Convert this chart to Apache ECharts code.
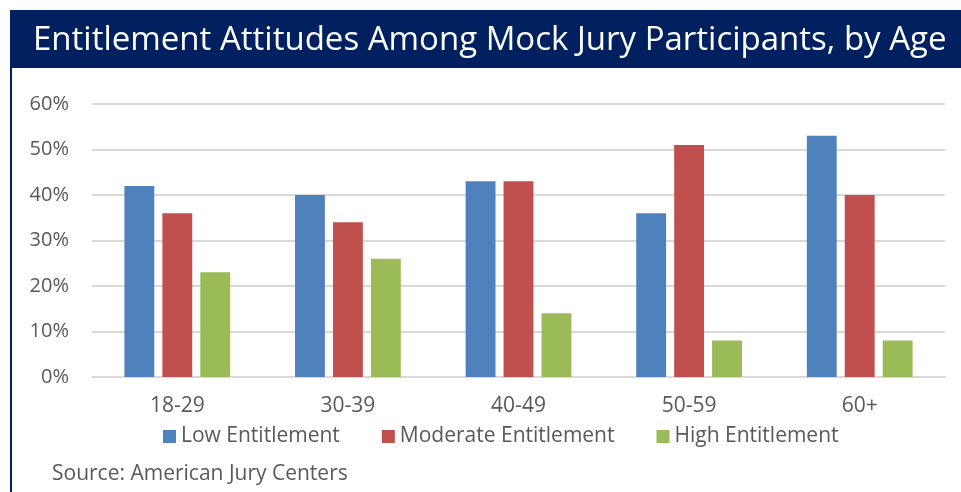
<!DOCTYPE html>
<html>
<head>
<meta charset="utf-8">
<script src="https://cdn.jsdelivr.net/npm/echarts@6/dist/echarts.min.js"></script>
<style>
  html, body { margin: 0; padding: 0; background: #fff; }
  #chart { width: 961px; height: 492px; }
</style>
</head>
<body>
<div id="chart"></div>
<script>
const ageGroups = ['18-29', '30-39', '40-49', '50-59', '60+'];
const lowEntitlement = [42, 40, 43, 36, 53];
const moderateEntitlement = [36, 34, 43, 51, 40];
const highEntitlement = [23, 26, 14, 8, 8];

const font = '"Open Sans", "Noto Sans", sans-serif';
const textColor = '#595959';

const chart = echarts.init(document.getElementById('chart'));

function barSeries(name, data, color) {
    return {
        name: name,
        type: 'bar',
        data: data,
        barGap: '27%',
        barCategoryGap: '38%',
        itemStyle: { color: color },
        emphasis: { disabled: true }
    };
}

chart.setOption({
    animation: false,
    title: {
        text: 'Entitlement Attitudes Among Mock Jury Participants, by Age',
        left: 28,
        top: 19,
        textStyle: { color: '#fff', fontSize: 33, fontWeight: 'normal', fontFamily: font }
    },
    graphic: [
        {
            type: 'rect', z: -1,
            shape: { x: 10, y: 10, width: 951, height: 58 },
            style: { fill: '#002060' }
        },
        {
            type: 'rect', z: -1,
            shape: { x: 10, y: 10, width: 2, height: 482 },
            style: { fill: '#002060' }
        },
        {
            type: 'text',
            left: 52,
            top: 464,
            style: { text: 'Source: American Jury Centers', fill: textColor, fontSize: 21, fontFamily: font }
        }
    ],
    legend: {
        data: ['Low Entitlement', 'Moderate Entitlement', 'High Entitlement'],
        left: 158,
        top: 421,
        itemWidth: 13,
        itemHeight: 13,
        itemGap: 42,
        icon: 'rect',
        textStyle: { color: textColor, fontSize: 21, fontFamily: font }
    },
    grid: { left: 92, right: 16, top: 104, bottom: 115, containLabel: false },
    xAxis: {
        type: 'category',
        data: ageGroups,
        axisLine: { lineStyle: { color: '#D9D9D9', width: 2 } },
        axisTick: { show: false },
        axisLabel: { color: textColor, fontSize: 21, fontFamily: font, margin: 19 }
    },
    yAxis: {
        type: 'value',
        min: 0,
        max: 60,
        interval: 10,
        axisLine: { show: false },
        axisTick: { show: false },
        splitLine: { lineStyle: { color: '#D9D9D9', width: 2 } },
        axisLabel: { color: textColor, fontSize: 20, fontFamily: font, margin: 23, formatter: '{value}%' }
    },
    series: [
        barSeries('Low Entitlement', lowEntitlement, '#4F81BD'),
        barSeries('Moderate Entitlement', moderateEntitlement, '#C0504D'),
        barSeries('High Entitlement', highEntitlement, '#9BBB59')
    ]
});
</script>
</body>
</html>
